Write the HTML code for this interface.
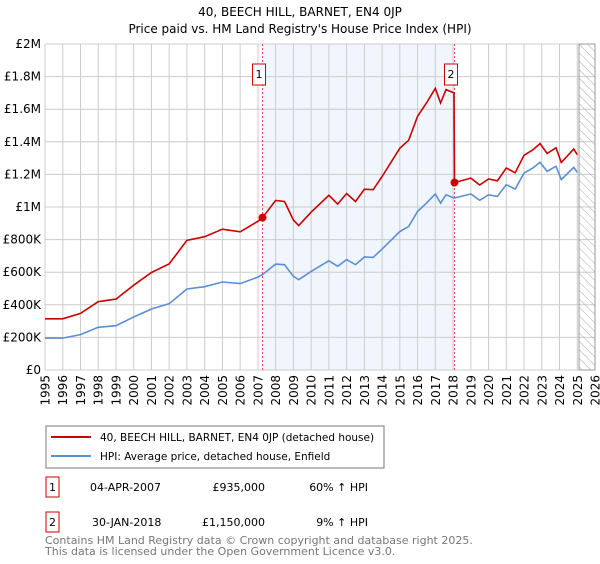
<!DOCTYPE html>
<html><head><meta charset="utf-8"><style>
body{margin:0;width:600px;height:560px;background:#fff;font-family:"DejaVu Sans","Liberation Sans",sans-serif;overflow:hidden}
svg text{font-family:"DejaVu Sans","Liberation Sans",sans-serif}
</style></head><body>
<svg id="c" width="600" height="560">
<text x="300" y="16" text-anchor="middle" font-size="12">40, BEECH HILL, BARNET, EN4 0JP</text>
<text x="300" y="33" text-anchor="middle" font-size="12">Price paid vs. HM Land Registry's House Price Index (HPI)</text>
<g id="plot"></g>
<rect x="46" y="426" width="338" height="42" fill="#fff" stroke="#777"/>
<line x1="51" y1="437" x2="91" y2="437" stroke="#cc0000" stroke-width="2"/>
<text x="100" y="441" font-size="10.5">40, BEECH HILL, BARNET, EN4 0JP (detached house)</text>
<line x1="51" y1="456" x2="91" y2="456" stroke="#5b8fd4" stroke-width="2"/>
<text x="100" y="460" font-size="10.5">HPI: Average price, detached house, Enfield</text>
<rect x="46" y="477" width="13" height="20" fill="#fff" stroke="#cc0000"/>
<text x="52.5" y="491" text-anchor="middle" font-size="11">1</text>
<text x="90" y="491" font-size="11">04-APR-2007</text>
<text x="265" y="491" text-anchor="end" font-size="11">£935,000</text>
<text x="368" y="491" text-anchor="end" font-size="11">60% ↑ HPI</text>
<rect x="46" y="512" width="13" height="20" fill="#fff" stroke="#cc0000"/>
<text x="52.5" y="526" text-anchor="middle" font-size="11">2</text>
<text x="92" y="526" font-size="11">30-JAN-2018</text>
<text x="265" y="526" text-anchor="end" font-size="11">£1,150,000</text>
<text x="368" y="526" text-anchor="end" font-size="11">9% ↑ HPI</text>
<text x="45" y="544" font-size="11" fill="#777">Contains HM Land Registry data © Crown copyright and database right 2025.</text>
<text x="45" y="555" font-size="11" fill="#777">This data is licensed under the Open Government Licence v3.0.</text>
</svg>
<script>
const years=[1995,1996,1997,1998,1999,2000,2001,2002,2003,2004,2005,2006,2007,2007.26,2008,2008.5,2009,2009.3,2010,2011,2011.5,2012,2012.5,2013,2013.5,2014,2015,2015.5,2016,2016.5,2017,2017.3,2017.6,2018.05,2018.08,2019,2019.5,2020,2020.5,2021,2021.5,2022,2022.5,2022.9,2023.3,2023.8,2024.1,2024.8,2025];
const hpiValues=[196,196,217,262,272,325,374,407,497,511,540,530,570,585,650,646,575,554,605,670,636,677,646,693,691,742,850,881,973,1024,1080,1024,1075,1055,1055,1080,1041,1075,1065,1137,1110,1208,1239,1274,1219,1250,1168,1243,1212];
const priceValues=[314,314,347,419,435,520,598,651,795,818,864,848,912,935,1040,1034,920,886,968,1072,1018,1083,1034,1109,1106,1187,1360,1410,1557,1638,1728,1638,1720,1700,1150,1177,1135,1172,1161,1239,1210,1317,1351,1389,1329,1363,1273,1355,1321];
const saleYears=[2007.26,2018.08];
const saleValues=[935,1150];
const yTicks=[0,200,400,600,800,1000,1200,1400,1600,1800,2000];
const yTickLabels=["£0","£200K","£400K","£600K","£800K","£1M","£1.2M","£1.4M","£1.6M","£1.8M","£2M"];
const xTicks=[1995,1996,1997,1998,1999,2000,2001,2002,2003,2004,2005,2006,2007,2008,2009,2010,2011,2012,2013,2014,2015,2016,2017,2018,2019,2020,2021,2022,2023,2024,2025,2026];
const L=45,R=595,T=44,B=370,x0=1995,x1=2026;
const X=v=>L+(v-x0)/(x1-x0)*(R-L);
const Y=v=>B-v/2000*(B-T);
const ns="http://www.w3.org/2000/svg",g=document.getElementById('plot');
function mk(t,a,p){const e=document.createElementNS(ns,t);for(const k in a)e.setAttribute(k,a[k]);(p||g).appendChild(e);return e;}
const bg=mk('rect',{x:X(saleYears[0]),y:T,width:X(saleYears[1])-X(saleYears[0]),height:B-T,fill:'#eef3fd',opacity:0.8});


const defs=mk('defs',{});
const pat=mk('pattern',{id:'h',width:6,height:6,patternUnits:'userSpaceOnUse',patternTransform:'rotate(-45)'},defs);
mk('line',{x1:0,y1:0,x2:0,y2:6,stroke:'#aaa','stroke-width':1},pat);
yTicks.forEach((v,i)=>{
 const l=mk('line',{x1:L,x2:R,y1:Y(v),y2:Y(v),stroke:'#ccc'});
 
 
 const t=mk('text',{x:L-4,y:Y(v)+4,'text-anchor':'end','font-size':12});
 t.textContent=yTickLabels[i];
 
 
});
xTicks.forEach(v=>{
 const l=mk('line',{x1:X(v),x2:X(v),y1:T,y2:B,stroke:'#ccc'});
 
 
 const tx=X(v)+4.5,ty=B+5;
 const t=mk('text',{x:tx,y:ty,'text-anchor':'end','font-size':12,transform:'rotate(-90 '+tx+' '+ty+')'});
 t.textContent=v;
 
 
});
const hz=mk('rect',{x:X(2025.1),y:T,width:R-X(2025.1),height:B-T,fill:'url(#h)',stroke:'#999'});


saleYears.forEach((s,i)=>{
 const l=mk('line',{x1:X(s),x2:X(s),y1:T,y2:B,stroke:'#e05050','stroke-dasharray':'2,2'});
 
 
 const r=mk('rect',{x:X(s)-10,y:64,width:13,height:21,fill:'#fff',stroke:'#cc0000'});
 
 
 const t=mk('text',{x:X(s)-3.5,y:78,'text-anchor':'middle','font-size':11});
 t.textContent=String(i+1);
 
 
});
const pts=a=>years.map((y,i)=>X(y).toFixed(1)+','+Y(a[i]).toFixed(1)).join(' ');
const hl=mk('polyline',{points:pts(hpiValues),fill:'none',stroke:'#5b8fd4','stroke-width':1.6});


const pl=mk('polyline',{points:pts(priceValues),fill:'none',stroke:'#cc0000','stroke-width':1.6});


saleYears.forEach((s,i)=>{
 const c=mk('circle',{cx:X(s),cy:Y(saleValues[i]),r:4,fill:'#cc0000'});
 
 
});
</script>
</body></html>
